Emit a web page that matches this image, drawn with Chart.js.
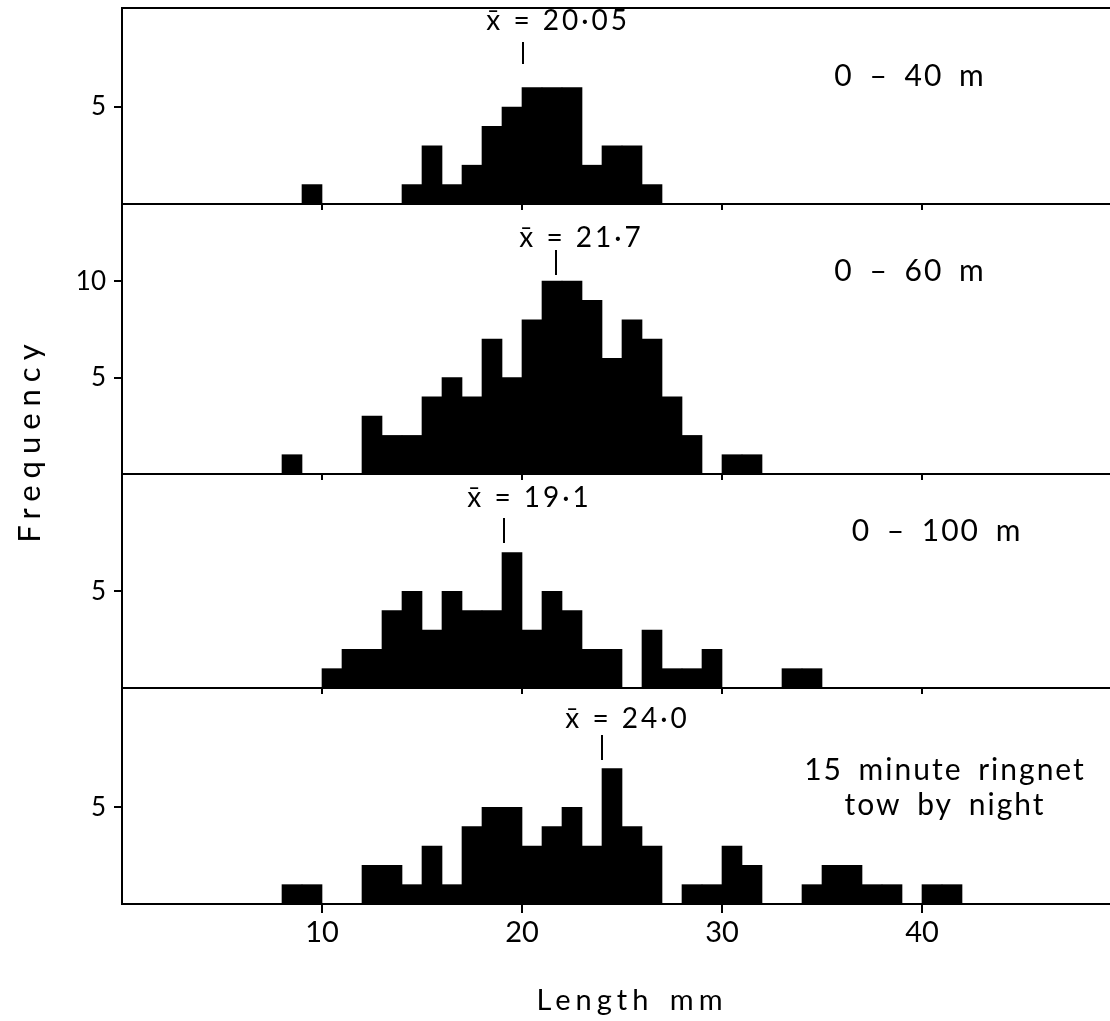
<!DOCTYPE html>
<html>
<head>
<meta charset="utf-8">
<title>Length frequency by depth</title>
<script src="https://cdn.jsdelivr.net/npm/chart.js@4"></script>
<style>
  body { margin: 0; background: #fff; }
  #figure { position: relative; width: 1110px; height: 1021px; background: #fff; overflow: hidden; }
  .panel { position: absolute; left: 0; width: 1110px; }
  #freq {
    position: absolute; left: -122px; top: 421px; width: 300px;
    line-height: 40px; text-align: center; color: #000;
    font: 31px Lato; letter-spacing: 7px;
    transform: rotate(-90deg);
  }
</style>
</head>
<body>
<div id="figure">
  <div class="panel" style="top:0;height:230px"><canvas id="p1"></canvas></div>
  <div class="panel" style="top:204px;height:296px"><canvas id="p2"></canvas></div>
  <div class="panel" style="top:474px;height:240px"><canvas id="p3"></canvas></div>
  <div class="panel" style="top:688px;height:333px"><canvas id="p4"></canvas></div>
  <div id="freq">Frequency</div>
</div>
<script>
// lower edge of each 1 mm length class
const lengthBins = [8, 9, 10, 11, 12, 13, 14, 15, 16, 17, 18, 19, 20, 21, 22, 23, 24,
                    25, 26, 27, 28, 29, 30, 31, 32, 33, 34, 35, 36, 37, 38, 39, 40, 41];

// number of animals in each class
const counts0to40m  = [0, 1, 0, 0, 0, 0, 1, 3, 1, 2, 4, 5, 6, 6, 6, 2, 3,
                       3, 1, 0, 0, 0, 0, 0, 0, 0, 0, 0, 0, 0, 0, 0, 0, 0];
const counts0to60m  = [1, 0, 0, 0, 3, 2, 2, 4, 5, 4, 7, 5, 8, 10, 10, 9, 6,
                       8, 7, 4, 2, 0, 1, 1, 0, 0, 0, 0, 0, 0, 0, 0, 0, 0];
const counts0to100m = [0, 0, 1, 2, 2, 4, 5, 3, 5, 4, 4, 7, 3, 5, 4, 2, 2,
                       0, 3, 1, 1, 2, 0, 0, 0, 1, 1, 0, 0, 0, 0, 0, 0, 0];
const countsRingnet = [1, 1, 0, 0, 2, 2, 1, 3, 1, 4, 5, 5, 3, 4, 5, 3, 7,
                       4, 3, 0, 1, 1, 3, 2, 0, 0, 1, 2, 2, 1, 1, 0, 1, 1];

const meanLength = [20.05, 21.7, 19.1, 24.0];
const meanText = ['20·05', '21·7', '19·1', '24·0'];
const depthText = [['0 – 40 m'], ['0 – 60 m'], ['0 – 100 m'], ['15 minute ringnet', 'tow by night']];
const lengthTicks = [10, 20, 30, 40];
const freqTicks = [[5], [5, 10], [5], [5]];

// mean marker, depth label and x title, drawn after the bars
const panelLabels = {
  id: 'panelLabels',
  afterDraw(chart, args, opts) {
    const { ctx, chartArea } = chart;
    const top = chartArea.top;
    const mx = chart.scales.x.getPixelForValue(opts.mean);
    ctx.save();
    ctx.fillStyle = '#000';
    ctx.strokeStyle = '#000';
    ctx.lineWidth = 2;
    ctx.beginPath();
    ctx.moveTo(mx, top + opts.tick[0]);
    ctx.lineTo(mx, top + opts.tick[1]);
    ctx.stroke();

    ctx.font = '28px Lato';
    ctx.letterSpacing = '3px';
    ctx.wordSpacing = '0px';
    ctx.textAlign = 'left';
    ctx.textBaseline = 'alphabetic';
    const lead = ctx.measureText('x\u0304 ').width + ctx.measureText('=').width / 2;
    ctx.fillText('x\u0304 = ' + opts.meanText, mx - lead, top + opts.meanY);

    ctx.font = '30px Lato';
    ctx.letterSpacing = '2px';
    ctx.wordSpacing = '6px';
    ctx.textAlign = 'center';
    opts.lines.forEach((t, k) => ctx.fillText(t, opts.x, top + opts.y[k]));

    if (opts.title) {
      ctx.font = '29px Lato';
      ctx.letterSpacing = '5px';
      ctx.wordSpacing = '4px';
      ctx.fillText(opts.title, opts.titleX, top + opts.titleY);
    }
    ctx.restore();
  }
};

const panels = [
  { id: 'p1', counts: counts0to40m,  yMax: 10.1,  axisH: 26,  padTop: 8,
    meanY: 22, tick: [34, 56], label: { x: 910, y: [78] } },
  { id: 'p2', counts: counts0to60m,  yMax: 14,    axisH: 26,  padTop: 0,
    meanY: 43, tick: [46, 71], label: { x: 910, y: [77] } },
  { id: 'p3', counts: counts0to100m, yMax: 11.07, axisH: 26,  padTop: 0,
    meanY: 33, tick: [44, 69], label: { x: 937, y: [67] } },
  { id: 'p4', counts: countsRingnet, yMax: 11.17, axisH: 117, padTop: 0,
    meanY: 40, tick: [47, 72], label: { x: 945, y: [92, 127] } }
];

panels.forEach((p, i) => {
  const last = i === panels.length - 1;
  const scales = {
    x: {
      type: 'linear',
      offset: false,
      min: 0,
      max: 49.4,
      afterBuildTicks: s => { s.ticks = lengthTicks.map(v => ({ value: v })); },
      afterFit: s => { s.height = p.axisH; s.paddingLeft = 0; s.paddingRight = 0; },
      ticks: {
        display: last,
        color: '#000',
        padding: 2,
        font: { family: 'Lato', size: 29 }
      },
      grid: {
        offset: false,
        drawOnChartArea: false,
        tickLength: last ? 9 : 6,
        color: '#000',
        lineWidth: 2
      },
      border: { color: '#000', width: 2 }
    },
    y: {
      min: 0,
      max: p.yMax,
      afterBuildTicks: s => { s.ticks = freqTicks[i].map(v => ({ value: v })); },
      afterFit: s => { s.width = 122; s.paddingTop = 0; s.paddingBottom = 0; },
      ticks: {
        color: '#000',
        padding: 8,
        font: { family: 'Lato', size: 26 }
      },
      grid: {
        drawOnChartArea: false,
        tickLength: 8,
        color: '#000',
        lineWidth: 2
      },
      border: { color: '#000', width: 2 }
    }
  };
  if (i === 0) {
    // frame line along the top of the figure
    scales.xTop = {
      type: 'linear',
      position: 'top',
      offset: false,
      min: 0,
      max: 49.4,
      afterFit: s => { s.height = 0; },
      ticks: { display: false },
      grid: { display: false, drawTicks: false },
      border: { color: '#000', width: 2 }
    };
  }

  new Chart(document.getElementById(p.id), {
    type: 'bar',
    data: {
      datasets: [{
        xAxisID: 'x',
        data: lengthBins.map((b, k) => ({ x: b + 0.5, y: p.counts[k] })),
        backgroundColor: '#000',
        borderWidth: 0,
        barPercentage: 1,
        categoryPercentage: 1
      }]
    },
    options: {
      responsive: true,
      maintainAspectRatio: false,
      animation: false,
      events: [],
      layout: { padding: { top: p.padTop, left: 0, right: 0, bottom: 0 } },
      plugins: {
        legend: { display: false },
        tooltip: { enabled: false },
        panelLabels: {
          mean: meanLength[i],
          meanText: meanText[i],
          meanY: p.meanY,
          tick: p.tick,
          lines: depthText[i],
          x: p.label.x,
          y: p.label.y,
          title: last ? 'Length mm' : null,
          titleX: 632,
          titleY: 322
        }
      },
      scales: scales
    },
    plugins: [panelLabels]
  });
});
</script>
</body>
</html>
